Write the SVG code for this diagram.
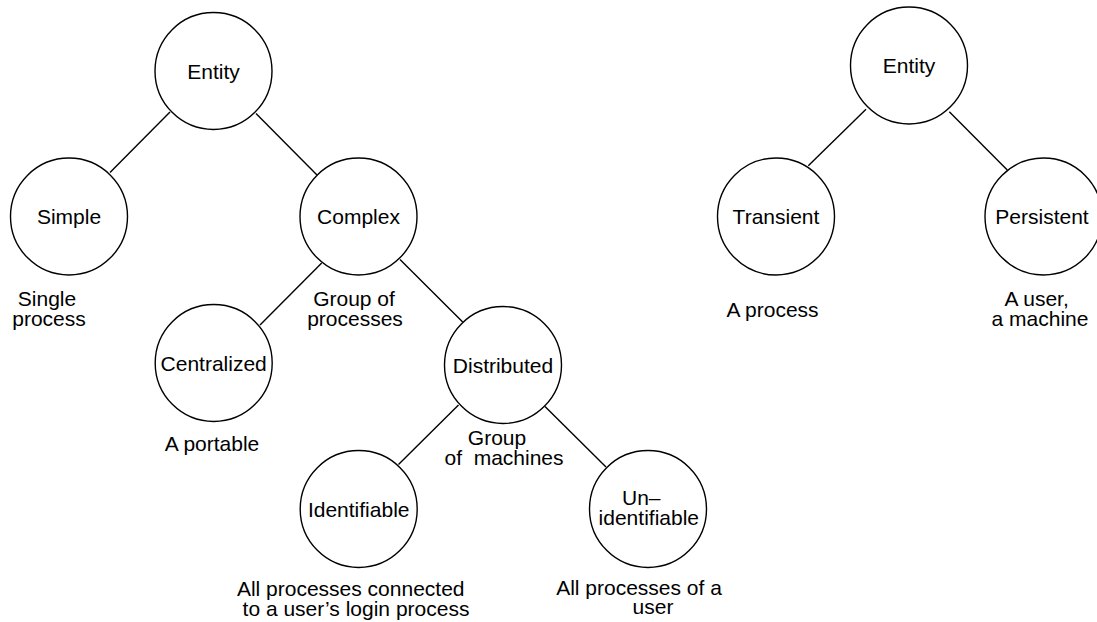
<svg xmlns="http://www.w3.org/2000/svg" width="1097" height="622" viewBox="0 0 1097 622">
  <style>
    .node circle { fill: #ffffff; stroke: #000000; stroke-width: 1.4; }
    .edges line { stroke: #000000; stroke-width: 1.4; }
    text { font-family: "Liberation Sans", Arial, sans-serif; font-size: 21px; fill: #000000; text-anchor: middle; white-space: pre; }
  </style>
  <rect width="1097" height="622" fill="#ffffff"/>

  <!-- connectors -->
  <g id="edges" class="edges">
    <line x1="170" y1="112" x2="110" y2="172.5"/>
    <line x1="256" y1="113.5" x2="317" y2="175"/>
    <line x1="321.7" y1="263" x2="260" y2="325"/>
    <line x1="400" y1="259.5" x2="462.7" y2="322"/>
    <line x1="458.5" y1="405" x2="398.5" y2="464.5"/>
    <line x1="545" y1="406.5" x2="606" y2="467"/>
    <line x1="866" y1="109.3" x2="808.3" y2="165.7"/>
    <line x1="949.3" y1="111.7" x2="1007.3" y2="170"/>
  </g>

  <!-- left taxonomy -->
  <g id="entity-left" class="node">
    <circle cx="213.5" cy="71" r="58.5"/>
    <text x="213.5" y="78.5">Entity</text>
  </g>
  <g id="simple" class="node">
    <circle cx="69" cy="216.5" r="58.5"/>
    <text x="69" y="224">Simple</text>
    <text x="47" y="306">Single</text>
    <text x="49" y="325.5">process</text>
  </g>
  <g id="complex" class="node">
    <circle cx="358.5" cy="216.5" r="58.5"/>
    <text x="358.5" y="224">Complex</text>
    <text x="354" y="306">Group of</text>
    <text x="355" y="325.5">processes</text>
  </g>
  <g id="centralized" class="node">
    <circle cx="213.7" cy="363" r="58.5"/>
    <text x="213.7" y="370.5">Centralized</text>
    <text x="212" y="450.5">A portable</text>
  </g>
  <g id="distributed" class="node">
    <circle cx="503" cy="365" r="58.5"/>
    <text x="503" y="372.5">Distributed</text>
    <text x="497" y="445">Group</text>
    <text x="504" y="465">of  machines</text>
  </g>
  <g id="identifiable" class="node">
    <circle cx="358.7" cy="509" r="58.5"/>
    <text x="358.7" y="516.5">Identifiable</text>
    <text x="350.7" y="595.5">All processes connected</text>
    <text x="356" y="616">to a user’s login process</text>
  </g>
  <g id="unidentifiable" class="node">
    <circle cx="648" cy="509" r="58.5"/>
    <text x="622" y="505" style="text-anchor:start">Un–</text>
    <text x="648.8" y="525">identifiable</text>
    <text x="639" y="595">All processes of a</text>
    <text x="653" y="613.5">user</text>
  </g>

  <!-- right taxonomy -->
  <g id="entity-right" class="node">
    <circle cx="909" cy="65.5" r="58.5"/>
    <text x="909" y="73">Entity</text>
  </g>
  <g id="transient" class="node">
    <circle cx="776" cy="216.5" r="58.5"/>
    <text x="776" y="224">Transient</text>
    <text x="772.5" y="316.5">A process</text>
  </g>
  <g id="persistent" class="node">
    <circle cx="1043.5" cy="216.5" r="58.5"/>
    <text x="1042" y="224">Persistent</text>
    <text x="1036.7" y="306">A user,</text>
    <text x="1040" y="325.5">a machine</text>
  </g>
</svg>
